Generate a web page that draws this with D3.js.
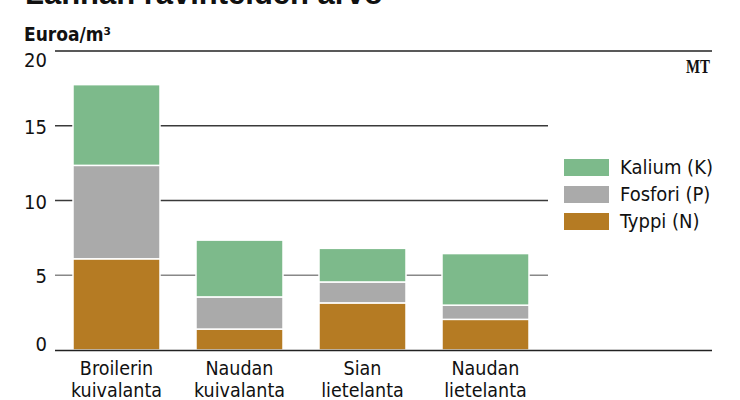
<!DOCTYPE html>
<html>
<head>
<meta charset="utf-8">
<script src="https://cdn.jsdelivr.net/npm/d3@7"></script>
<style>
  body { margin: 0; background: #fff; }
  svg text { font-family: "Liberation Sans Narrow", "DejaVu Sans Condensed", sans-serif; fill: #111; }
</style>
</head>
<body>
<div id="chart"></div>
<script>
// data
const categories = [["Broilerin", "kuivalanta"], ["Naudan", "kuivalanta"], ["Sian", "lietelanta"], ["Naudan", "lietelanta"]]
const typpi = [6.1, 1.4, 3.15, 2.05]
const fosfori = [6.25, 2.15, 1.4, 0.95]
const kalium = [5.4, 3.8, 2.25, 3.45]
const yTicks = [0, 5, 10, 15, 20]
const seriesNames = ["Typpi (N)", "Fosfori (P)", "Kalium (K)"]
const colors = ["#b57b23", "#aaaaaa", "#7dba8b"]

const width = 740, height = 400

const svg = d3.select("#chart").append("svg")
  .attr("width", width)
  .attr("height", height)

// title (mostly cut off at the top)
svg.append("text")
  .attr("x", 25).attr("y", 4)
  .style("font-family", "'Liberation Sans', Arial, sans-serif")
  .style("font-weight", "bold")
  .style("font-size", "31px")
  .attr("textLength", 358)
  .text("Lannan ravinteiden arvo")

svg.append("text")
  .attr("x", 24).attr("y", 41)
  .style("font-weight", "bold")
  .style("font-size", "19px")
  .text("Euroa/m³")

svg.append("text")
  .attr("x", 710).attr("y", 73)
  .attr("text-anchor", "end")
  .style("font-family", "'Liberation Serif', serif")
  .style("font-weight", "bold")
  .style("font-size", "18px")
  .attr("textLength", 24)
  .attr("lengthAdjust", "spacingAndGlyphs")
  .text("MT")

const x = d3.scaleBand()
  .domain(d3.range(categories.length))
  .range([73, 529])
  .paddingInner(0.2927)
  .paddingOuter(0)

const y = d3.scaleLinear()
  .domain([0, 20])
  .range([350, 51])

// grid lines
svg.selectAll(".grid")
  .data(yTicks.filter(t => t > 0 && t < 20))
  .enter().append("line")
  .attr("x1", 55).attr("x2", 548)
  .attr("y1", d => y(d)).attr("y2", d => y(d))
  .attr("stroke", d => d === 5 ? "#888" : "#3a3a3a")
  .attr("stroke-width", 1.5)

// top line
svg.append("line")
  .attr("x1", 55).attr("x2", 712)
  .attr("y1", y(20)).attr("y2", y(20))
  .attr("stroke", "#222").attr("stroke-width", 1.5)

// y labels
svg.selectAll(".ylab")
  .data(yTicks)
  .enter().append("text")
  .attr("x", 47)
  .attr("y", d => y(d) + (d === 20 ? 16 : d === 0 ? 1 : 8))
  .attr("text-anchor", "end")
  .style("font-size", "20px")
  .text(d => d)

// stack
const rows = categories.map((c, i) => ({ i: i, n: typpi[i], p: fosfori[i], k: kalium[i] }))
const stack = d3.stack().keys(["n", "p", "k"])(rows)

svg.selectAll(".layer")
  .data(stack)
  .enter().append("g")
  .attr("fill", (d, i) => colors[i])
  .selectAll("rect")
  .data(d => d)
  .enter().append("rect")
  .attr("x", d => x(d.data.i))
  .attr("width", x.bandwidth())
  .attr("y", d => y(d[1]))
  .attr("height", d => y(d[0]) - y(d[1]))
  .attr("stroke", "#fff")
  .attr("stroke-width", 1.5)

// baseline
svg.append("line")
  .attr("x1", 55).attr("x2", 712)
  .attr("y1", y(0) + 0.5).attr("y2", y(0) + 0.5)
  .attr("stroke", "#222").attr("stroke-width", 1.5)

// x labels
const xl = svg.selectAll(".xlab")
  .data(categories)
  .enter().append("text")
  .attr("text-anchor", "middle")
  .style("font-size", "19.5px")
xl.selectAll("tspan")
  .data((d, i) => d.map(t => ({ t: t, i: i })))
  .enter().append("tspan")
  .attr("x", d => x(d.i) + x.bandwidth() / 2)
  .attr("y", (d, j) => 375 + j * 22)
  .text(d => d.t)

// legend
const legendOrder = [2, 1, 0]
const lg = svg.selectAll(".leg")
  .data(legendOrder)
  .enter().append("g")
  .attr("transform", (d, i) => `translate(564, ${159 + i * 27})`)
lg.append("rect")
  .attr("width", 45).attr("height", 17)
  .attr("fill", d => colors[d])
lg.append("text")
  .attr("x", 56).attr("y", 15)
  .style("font-size", "20px")
  .text(d => seriesNames[d])
</script>
</body>
</html>
